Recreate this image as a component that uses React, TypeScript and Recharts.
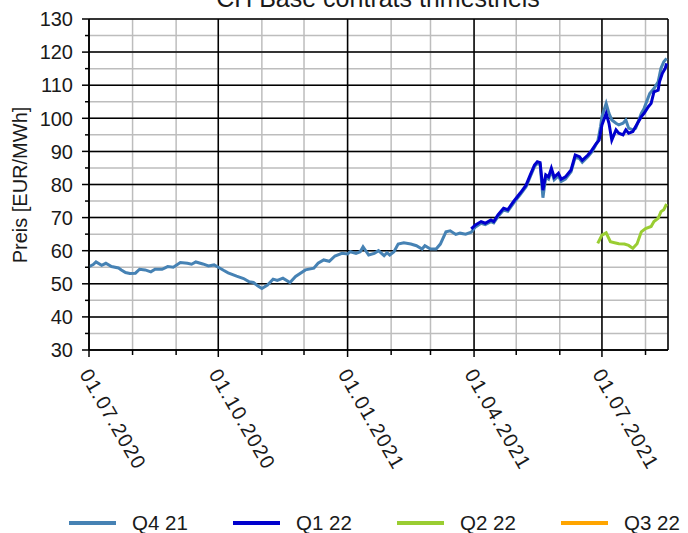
import {
  CartesianGrid,
  Line,
  LineChart,
  ReferenceLine,
  XAxis,
  YAxis,
} from "recharts";

const FONT = '"Liberation Sans", Arial, sans-serif';

const START = "01.07.2020";
const END = "17.08.2021";

const MONTH_TICKS = [
  "01.07.2020", "01.08.2020", "01.09.2020", "01.10.2020", "01.11.2020",
  "01.12.2020", "01.01.2021", "01.02.2021", "01.03.2021", "01.04.2021",
  "01.05.2021", "01.06.2021", "01.07.2021", "01.08.2021",
];
const QUARTER_TICKS = ["01.07.2020", "01.10.2020", "01.01.2021", "01.04.2021", "01.07.2021"];

const Y_TICKS = [30, 35, 40, 45, 50, 55, 60, 65, 70, 75, 80, 85, 90, 95, 100, 105, 110, 115, 120, 125, 130];
const Y_LABELS = [30, 40, 50, 60, 70, 80, 90, 100, 110, 120, 130];

// days since 01.07.2020
const q421Days = [
  0, 3, 5, 9, 12, 16, 21, 23, 26, 29, 33, 36, 40, 44, 47, 52, 56, 60, 65, 70,
  73, 76, 81, 85, 89, 92, 96, 99, 105, 110, 114, 117, 120, 123, 127, 131, 134,
  138, 143, 147, 154, 160, 163, 167, 171, 175, 180, 184, 186, 190, 193, 195,
  199, 203, 206, 210, 212, 214, 217, 220, 224, 229, 233, 237, 239, 243, 247,
  250, 254, 257, 261, 264, 268, 272, 275, 279, 282, 286, 288, 291, 295, 298,
  302, 307, 311, 314, 317, 319, 321, 323, 325, 327, 329, 331, 334, 336, 339,
  343, 346, 349, 351, 355, 358, 362, 364, 365, 368, 370, 372, 375, 377, 380,
  382, 384, 387, 389, 393, 395, 399, 402, 405, 407, 409, 411,
];
const q421Prices = [
  55.2, 55.8, 56.6, 55.6, 56.2, 55.2, 54.8, 54.2, 53.4, 53.1, 53.2, 54.4, 54.2,
  53.6, 54.4, 54.4, 55.2, 55.0, 56.4, 56.2, 55.9, 56.6, 56.0, 55.4, 55.7, 55.0,
  54.0, 53.3, 52.3, 51.6, 50.6, 50.4, 49.4, 48.6, 49.6, 51.4, 51.0, 51.7, 50.4,
  52.2, 54.2, 54.7, 56.2, 57.2, 56.8, 58.4, 59.2, 59.0, 59.7, 59.2, 59.7, 61.2,
  58.7, 59.2, 60.0, 58.5, 59.4, 58.7, 59.7, 62.0, 62.4, 62.0, 61.5, 60.5, 61.5,
  60.5, 60.5, 62.0, 65.7, 66.0, 64.9, 65.3, 65.0, 65.6, 67.2, 68.3, 67.9, 68.8,
  68.4, 70.3, 72.3, 71.9, 74.3, 77.0, 79.3, 82.4, 85.4, 86.4, 86.1, 76.0, 82.2,
  81.6, 84.2, 81.4, 82.6, 80.9, 81.6, 83.8, 88.3, 87.8, 86.7, 88.4, 89.9, 93.0,
  97.5, 100.5, 104.5, 101.5, 99.5, 98.5, 98.0, 98.5, 99.5, 97.0, 96.5, 97.0,
  101.5, 103.0, 107.5, 109.0, 111.0, 115.1, 117.1, 118.1,
];

const q122Days = [
  272, 275, 279, 282, 286, 288, 291, 295, 298, 302, 307, 311, 314, 317, 319,
  321, 323, 325, 327, 329, 331, 334, 336, 339, 343, 346, 349, 351, 355, 357,
  361, 363, 365, 368, 370, 372, 375, 377, 380, 382, 384, 387, 389, 393, 395,
  398, 400, 402, 405, 406, 408, 410, 411,
];
const q122Prices = [
  66.6, 67.8, 68.8, 68.3, 69.3, 68.8, 70.8, 72.8, 72.4, 74.8, 77.5, 79.8, 82.9,
  85.9, 86.9, 86.6, 78.3, 82.9, 82.3, 84.9, 82.2, 83.4, 81.6, 82.3, 84.4, 88.9,
  88.4, 87.3, 88.9, 89.9, 92.4, 93.4, 98.0, 101.5, 98.5, 93.4, 96.5, 95.5, 95.0,
  96.5, 95.5, 96.0, 97.5, 100.5, 101.5, 103.5, 104.5, 108.0, 108.5, 111.1,
  113.6, 115.1, 116.6,
];

const q222Days = [362, 365, 368, 371, 374, 377, 381, 384, 387, 390, 393, 396, 400, 402, 405, 407, 409, 411];
const q222Prices = [62.2, 64.7, 65.4, 62.7, 62.4, 62.1, 62.0, 61.6, 60.7, 62.1, 65.7, 66.7, 67.3, 68.8, 69.8, 71.8, 72.4, 74.1];

const q322Days: number[] = [];
const q322Prices: number[] = [];

const SERIES = [
  { name: "Q4 21", color: "#4682b4", days: q421Days, prices: q421Prices },
  { name: "Q1 22", color: "#0000cd", days: q122Days, prices: q122Prices },
  { name: "Q2 22", color: "#9acd32", days: q222Days, prices: q222Prices },
  { name: "Q3 22", color: "#ffa500", days: q322Days, prices: q322Prices },
];

function dayOf(label: string) {
  const [d, m, y] = label.split(".").map(Number);
  const [d0, m0, y0] = START.split(".").map(Number);
  return Math.round((Date.UTC(y, m - 1, d) - Date.UTC(y0, m0 - 1, d0)) / 86400000);
}

const monthDays = MONTH_TICKS.map(dayOf);
const quarterDays = QUARTER_TICKS.map(dayOf);

function XTick(props: any) {
  const { x, y, payload } = props;
  const i = monthDays.indexOf(payload.value);
  const major = quarterDays.includes(payload.value);
  return (
    <g>
      <line x1={x} x2={x} y1={y} y2={y + (major ? 7 : 5)} stroke="#000" strokeWidth={1.5} />
      {major && (
        <text
          transform={`translate(${x - 10},${y + 24}) rotate(60)`}
          fontSize={20}
          letterSpacing={1.2}
          fill="#1a1a1a"
          fontFamily={FONT}
        >
          {MONTH_TICKS[i]}
        </text>
      )}
    </g>
  );
}

function YTick(props: any) {
  const { x, y, payload } = props;
  const major = Y_LABELS.includes(payload.value);
  return (
    <g>
      <line x1={x - (major ? 7 : 4)} x2={x} y1={y} y2={y} stroke="#000" strokeWidth={1.5} />
      {major && (
        <text x={73} y={y} dy="0.36em" textAnchor="end" fontSize={20} fill="#1a1a1a" fontFamily={FONT}>
          {payload.value}
        </text>
      )}
    </g>
  );
}

function YLabel() {
  return (
    <text
      transform="translate(27,185) rotate(-90)"
      textAnchor="middle"
      fontSize={20}
      fill="#1a1a1a"
      fontFamily={FONT}
    >
      Preis [EUR/MWh]
    </text>
  );
}

export default function App() {
  return (
    <div style={{ position: "absolute", left: 0, top: 0, width: 688, height: 533, overflow: "hidden", fontFamily: FONT }}>
      <div
        style={{
          position: "absolute",
          left: 78,
          width: 600,
          top: -14,
          textAlign: "center",
          fontSize: 25,
          lineHeight: 1,
          color: "#1a1a1a",
          whiteSpace: "nowrap",
        }}
      >
        CH Base contrats trimestriels
      </div>
      <LineChart width={688} height={533} margin={{ top: 19, right: 20, bottom: 0, left: 0 }}>
        <CartesianGrid stroke="#bdbdbd" strokeWidth={1.5} />
        <XAxis
          dataKey="day"
          type="number"
          domain={[0, dayOf(END)]}
          ticks={monthDays}
          interval={0}
          height={183}
          tickSize={0}
          tickMargin={0}
          tickLine={false}
          tick={<XTick />}
          axisLine={{ stroke: "#000", strokeWidth: 1.5 }}
          allowDataOverflow
        />
        <YAxis
          type="number"
          domain={[30, 130]}
          ticks={Y_TICKS}
          interval={0}
          width={89}
          tickSize={0}
          tickMargin={0}
          tickLine={false}
          tick={<YTick />}
          axisLine={{ stroke: "#000", strokeWidth: 1.5 }}
          label={<YLabel />}
        />
        {Y_LABELS.map((v) => (
          <ReferenceLine key={"y" + v} y={v} stroke="#000" strokeWidth={1.5} />
        ))}
        {quarterDays.map((d) => (
          <ReferenceLine key={"x" + d} x={d} stroke="#000" strokeWidth={1.5} />
        ))}
        <ReferenceLine x={dayOf(END)} stroke="#000" strokeWidth={1.5} />
        {SERIES.map((s) => (
          <Line
            key={s.name}
            name={s.name}
            data={s.days.map((d, i) => ({ day: d, price: s.prices[i] }))}
            dataKey="price"
            stroke={s.color}
            strokeWidth={3}
            dot={false}
            isAnimationActive={false}
          />
        ))}
      </LineChart>
      <div style={{ position: "absolute", left: 69, top: 511, display: "flex", whiteSpace: "nowrap" }}>
        {SERIES.map((s) => (
          <div key={s.name} style={{ width: 164, display: "flex", alignItems: "center", height: 24 }}>
            <div style={{ width: 47, height: 4, background: s.color, marginRight: 16 }} />
            <span style={{ fontSize: 20.5, color: "#1a1a1a" }}>{s.name}</span>
          </div>
        ))}
      </div>
    </div>
  );
}
